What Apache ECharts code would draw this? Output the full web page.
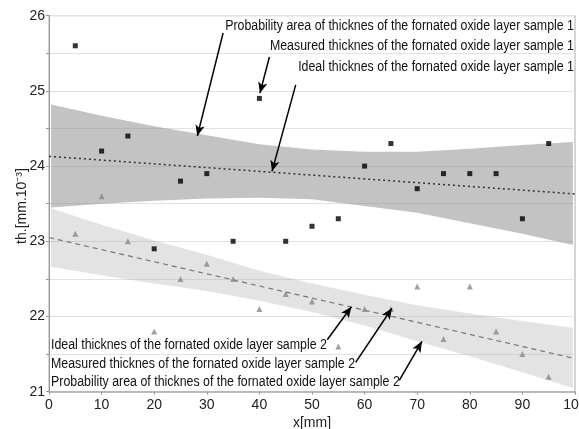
<!DOCTYPE html>
<html>
<head>
  <meta charset="UTF-8">
  <title>oxide layer thickness</title>
  <script src="https://cdn.jsdelivr.net/npm/echarts@6/dist/echarts.min.js"></script>
  <style>
  html, body { margin: 0; padding: 0; background: #fff; }
  #chart { width: 579px; height: 429px; }
  </style>
</head>
<body>
<div id="chart"></div>
<script>
var FONT = '"Liberation Sans", Arial, sans-serif';

// x positions of the measurements [mm]
var xPos = [5, 10, 15, 20, 25, 30, 35, 40, 45, 50, 55, 60, 65, 70, 75, 80, 85, 90, 95];
// measured thickness, sample 1 (squares) and sample 2 (triangles)
var sample1 = [25.6, 24.2, 24.4, 22.9, 23.8, 23.9, 23.0, 24.9, 23.0, 23.2, 23.3, 24.0, 24.3, 23.7, 23.9, 23.9, 23.9, 23.3, 24.3];
var sample2 = [23.1, 23.6, 23.0, 21.8, 22.5, 22.7, 22.5, 22.1, 22.3, 22.2, 21.6, 22.1, 22.1, 22.4, 21.7, 22.4, 21.8, 21.5, 21.2];

// ideal (fitted) lines, end points
var idealX = [0, 100];
var ideal1 = [24.13, 23.63];
var ideal2 = [23.05, 21.44];

// probability areas
var bandX = [0.4, 10, 20, 30, 40, 50, 60, 70, 80, 90, 99.6];
var band1Upper = [24.82, 24.67, 24.53, 24.41, 24.29, 24.22, 24.19, 24.19, 24.23, 24.28, 24.32];
var band1Lower = [23.45, 23.50, 23.54, 23.57, 23.58, 23.56, 23.47, 23.38, 23.24, 23.10, 22.95];
var band2Upper = [23.44, 23.22, 23.01, 22.82, 22.61, 22.44, 22.29, 22.15, 22.04, 21.94, 21.85];
var band2Lower = [22.66, 22.55, 22.44, 22.34, 22.21, 22.06, 21.88, 21.67, 21.47, 21.26, 21.05];

var yTicks = [21, 22, 23, 24, 25, 26];

// annotation arrows: [x1, y1, x2, y2] in data units
var arrowsTop = [[33.1, 25.77, 28.2, 24.40], [41.9, 25.45, 40.1, 24.97], [46.9, 25.08, 42.4, 23.93]];
var arrowsBottom = [[52.9, 21.69, 57.5, 22.13], [58.3, 21.39, 65.2, 22.11], [66.6, 21.15, 70.9, 21.67]];

var labelsTop = [
  'Probability area of thicknes of the fornated oxide layer sample 1',
  'Measured thicknes of the fornated oxide layer sample 1',
  'Ideal thicknes of the fornated oxide layer sample 1'
];
var labelsBottom = [
  'Ideal thicknes of the fornated oxide layer sample 2',
  'Measured thicknes of the fornated oxide layer sample 2',
  'Probability area of thicknes of the fornated oxide layer sample 2'
];

function pairs(xs, ys) {
  return xs.map(function (x, i) { return [x, ys[i]]; });
}

function bandSeries(upper, lower, color) {
  var data = bandX.map(function (x, i) { return [x, upper[i], lower[i]]; });
  return {
    type: 'custom',
    silent: true,
    z: 1,
    data: data,
    renderItem: function (params, api) {
      if (params.dataIndex !== 0) return;
      var top = data.map(function (d) { return api.coord([d[0], d[1]]); });
      var bot = data.map(function (d) { return api.coord([d[0], d[2]]); }).reverse();
      return {
        type: 'polygon',
        shape: { points: top.concat(bot) },
        style: { fill: color }
      };
    }
  };
}

function arrowLines(list) {
  return list.map(function (a) {
    return [{ coord: [a[0], a[1]] }, { coord: [a[2], a[3]] }];
  });
}

var myChart = echarts.init(document.getElementById('chart'));

// the picture's text is narrow, so squeeze it a bit
var graphics = [];
labelsTop.forEach(function (t, i) {
  graphics.push({
    type: 'text', x: 574, y: 26 + i * 20.5, scaleX: 0.884,
    style: { text: t, font: '14px ' + FONT, fill: '#111', align: 'right', verticalAlign: 'middle' }
  });
});
labelsBottom.forEach(function (t, i) {
  graphics.push({
    type: 'text', x: 51, y: 345.5 + i * 18.5, scaleX: 0.884,
    style: { text: t, font: '14px ' + FONT, fill: '#111', align: 'left', verticalAlign: 'middle' }
  });
});
graphics.push({
  type: 'text', x: 22, y: 206, rotation: Math.PI / 2,
  style: { text: 'th.[mm.10⁻³]', font: '14px ' + FONT, fill: '#222', align: 'center', verticalAlign: 'middle' }
});

var option = {
  animation: false,
  grid: {
    left: 49, right: 4, top: 15.7, bottom: 37.3,
    outerBoundsMode: 'none',
    show: true, borderColor: '#aaa', borderWidth: 1
  },
  xAxis: {
    type: 'value', min: 0, max: 100, interval: 10,
    name: 'x[mm]', nameLocation: 'middle', nameGap: 24,
    nameTextStyle: { fontFamily: FONT, fontSize: 14, color: '#222' },
    axisLine: { lineStyle: { color: '#aaa', width: 1.5 } },
    axisTick: { show: true, length: 3, lineStyle: { color: '#999' } },
    axisLabel: { fontFamily: FONT, fontSize: 14, color: '#222', margin: 6 },
    splitLine: { show: false }
  },
  yAxis: {
    type: 'value', min: 21, max: 26, interval: 0.5,
    axisLine: { show: true, lineStyle: { color: '#999' } },
    axisTick: { show: true, length: 3, lineStyle: { color: '#999' } },
    axisLabel: {
      fontFamily: FONT, fontSize: 14, color: '#222', margin: 4,
      formatter: function (v) { return yTicks.indexOf(v) >= 0 ? String(v) : ''; }
    },
    splitLine: { show: true, lineStyle: { color: '#e2e2e2' } }
  },
  graphic: graphics,
  series: [
    bandSeries(band1Upper, band1Lower, 'rgba(140,140,140,0.52)'),
    bandSeries(band2Upper, band2Lower, 'rgba(170,170,170,0.33)'),
    {
      type: 'line', data: pairs(idealX, ideal1), symbol: 'none', z: 3,
      lineStyle: { color: '#333', width: 1.5, type: [2, 3] },
      markLine: {
        silent: true, symbol: ['none', 'arrow'], symbolSize: [7, 11],
        label: { show: false },
        lineStyle: { color: '#000', width: 1.5, type: 'solid' },
        data: arrowLines(arrowsTop.concat(arrowsBottom))
      }
    },
    {
      type: 'line', data: pairs(idealX, ideal2), symbol: 'none', z: 3,
      lineStyle: { color: '#777', width: 1.2, type: [5, 4] }
    },
    {
      type: 'scatter', data: pairs(xPos, sample1), symbol: 'rect', symbolSize: 5, z: 4,
      itemStyle: { color: '#000' }
    },
    {
      type: 'scatter', data: pairs(xPos, sample2), symbol: 'triangle', symbolSize: 6, z: 4,
      itemStyle: { color: '#888' }
    }
  ]
};

myChart.setOption(option);
</script>
</body>
</html>
